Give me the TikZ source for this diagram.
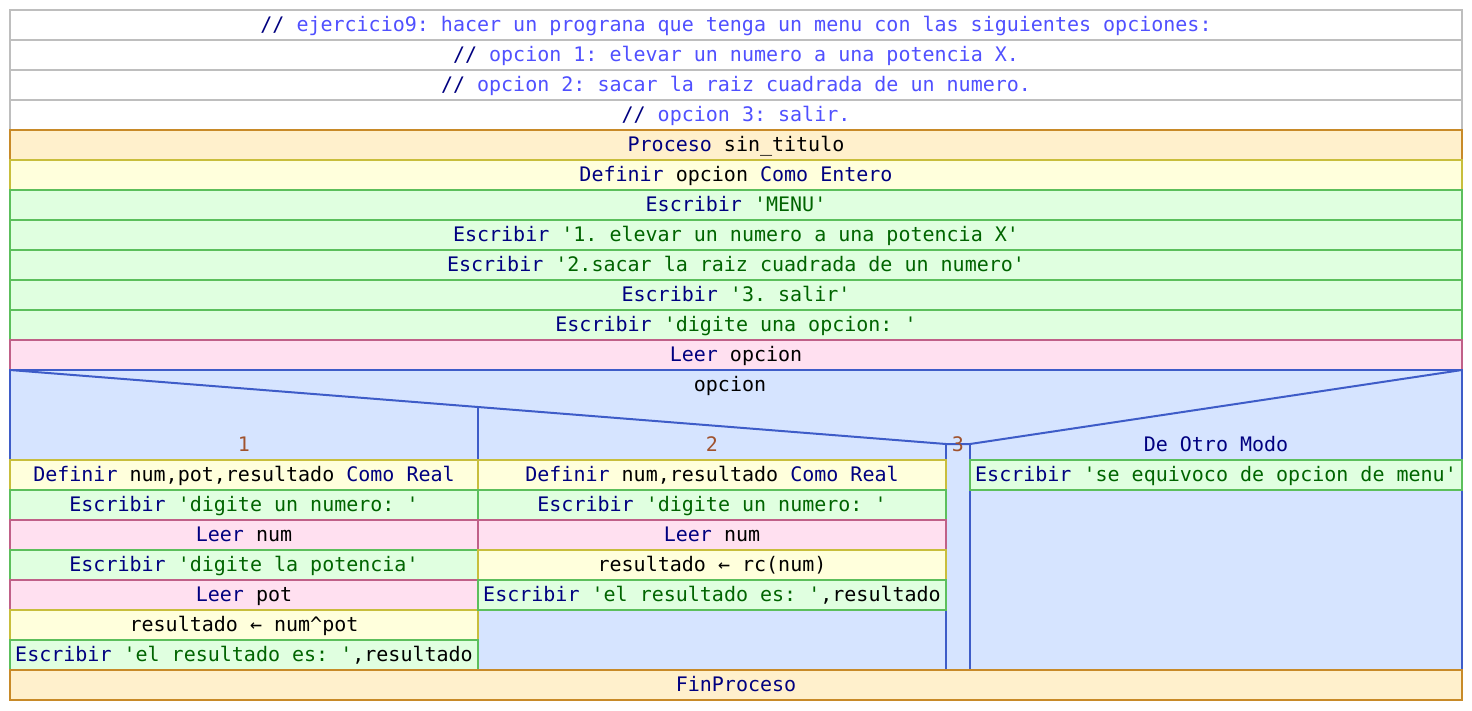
\documentclass[tikz,border=0pt]{standalone}
\usepackage{fontspec}
\setmonofont{DejaVu Sans Mono}
\usepackage{tikz}
\usepackage{xcolor}
\definecolor{cmtline}{HTML}{BEBEBE}
\definecolor{cmttext}{HTML}{5050FF}
\definecolor{kwcol}{HTML}{000080}
\definecolor{strcol}{HTML}{006400}
\definecolor{casecol}{HTML}{A0522D}
\definecolor{procfill}{HTML}{FFF0CC}
\definecolor{procline}{HTML}{C88A28}
\definecolor{deffill}{HTML}{FFFFDC}
\definecolor{defline}{HTML}{C8BE3C}
\definecolor{escfill}{HTML}{E0FFE0}
\definecolor{escline}{HTML}{5CBF5C}
\definecolor{leerfill}{HTML}{FFE0F0}
\definecolor{leerline}{HTML}{C06088}
\definecolor{swfill}{HTML}{D6E4FF}
\definecolor{swline}{HTML}{3E5CC8}
\newcommand{\kw}[1]{\textcolor{kwcol}{#1}}
\newcommand{\cad}[1]{\textcolor{strcol}{#1}}

\begin{document}
\begin{tikzpicture}[x=1pt, y=-1pt,
                    line join=miter,
                    blk/.style={rectangle, line width=2pt, inner sep=0pt, outer sep=0pt,
                                anchor=north west, minimum height=30pt, minimum width=#1,
                                text height=15pt, text depth=3pt,
                                font=\ttfamily\fontsize{20}{24}\selectfont},
                    blk/.default=1452pt,
                    cmt/.style={blk, draw=cmtline, fill=white},
                    proc/.style={blk=#1, draw=procline, fill=procfill},
                    proc/.default=1452pt,
                    defi/.style={blk=#1, draw=defline, fill=deffill},
                    defi/.default=1452pt,
                    esc/.style={blk=#1, draw=escline, fill=escfill},
                    esc/.default=1452pt,
                    leer/.style={blk=#1, draw=leerline, fill=leerfill},
                    leer/.default=1452pt,
                    lbl/.style={inner sep=0pt, text height=15pt, text depth=3pt,
                                font=\ttfamily\fontsize{20}{24}\selectfont},
                    swpath/.style={swline, line width=2pt}]
  \useasboundingbox (0,0) rectangle (1472,710);
  \def\colw{468pt}  % width of cases 1 and 2
  \def\otrow{492pt} % width of De Otro Modo

  % COMMENTS
  \foreach \txt [count=\i] in {{ejercicio9: hacer un prograna que tenga un menu con las siguientes opciones:},
                               {opcion 1: elevar un numero a una potencia X.},
                               {opcion 2: sacar la raiz cuadrada de un numero.},
                               {opcion 3: salir.}}{
    \node[cmt] (com\i) at (10,{10+30*(\i-1)}) {\kw{//} \textcolor{cmttext}{\txt}};
  }

  % MAIN SEQUENCE
  \node[proc] (proc) at (10,130) {\kw{Proceso} sin\_titulo};
  \node[defi] (defop) at (10,160) {\kw{Definir} opcion \kw{Como Entero}};
  \foreach \txt [count=\i] in {{'MENU'},
                               {'1. elevar un numero a una potencia X'},
                               {'2.sacar la raiz cuadrada de un numero'},
                               {'3. salir'},
                               {'digite una opcion: '}}{
    \node[esc] (esc\i) at (10,{190+30*(\i-1)}) {\kw{Escribir} \cad{\txt}};
  }
  \node[leer] (leerop) at (10,340) {\kw{Leer} opcion};

  % SWITCH
  \coordinate (swtl) at (10,370);
  \coordinate (swtr) at (1462,370);
  \coordinate (swbl) at (10,670);
  \coordinate (swbr) at (1462,670);
  \coordinate (tipl) at (946,444);
  \coordinate (tipr) at (970,444);
  \coordinate (sepa) at (478,407);
  \draw[swpath, fill=swfill] (swtl) rectangle (swbr);
  \draw[swpath] (swtl) -- (tipl) -- (tipr) -- (swtr);
  \draw[swpath] (sepa) -- (478,670);
  \draw[swpath] (tipl) -- (946,670);
  \draw[swpath] (tipr) -- (970,670);

  \node[lbl] (selvar) at (730,385) {opcion};
  \node[lbl, text=casecol] (caso1) at (244,445) {1};
  \node[lbl, text=casecol] (caso2) at (712,445) {2};
  \node[lbl, text=casecol] (caso3) at (958,445) {3};
  \node[lbl, text=kwcol] (otro) at (1216,445) {De Otro Modo};

  % CASE 1
  \node[defi=\colw] (c1a) at (10,460) {\kw{Definir} num,pot,resultado \kw{Como Real}};
  \node[esc=\colw]  (c1b) at (10,490) {\kw{Escribir} \cad{'digite un numero: '}};
  \node[leer=\colw] (c1c) at (10,520) {\kw{Leer} num};
  \node[esc=\colw]  (c1d) at (10,550) {\kw{Escribir} \cad{'digite la potencia'}};
  \node[leer=\colw] (c1e) at (10,580) {\kw{Leer} pot};
  \node[defi=\colw] (c1f) at (10,610) {resultado ← num\textasciicircum pot};
  \node[esc=\colw]  (c1g) at (10,640) {\kw{Escribir} \cad{'el resultado es: '},resultado};

  % CASE 2
  \node[defi=\colw] (c2a) at (478,460) {\kw{Definir} num,resultado \kw{Como Real}};
  \node[esc=\colw]  (c2b) at (478,490) {\kw{Escribir} \cad{'digite un numero: '}};
  \node[leer=\colw] (c2c) at (478,520) {\kw{Leer} num};
  \node[defi=\colw] (c2d) at (478,550) {resultado ← rc(num)};
  \node[esc=\colw]  (c2e) at (478,580) {\kw{Escribir} \cad{'el resultado es: '},resultado};

  % DE OTRO MODO
  \node[esc=\otrow] (c4a) at (970,460) {\kw{Escribir} \cad{'se equivoco de opcion de menu'}};

  \node[proc] (finproc) at (10,670) {\kw{FinProceso}};
\end{tikzpicture}
\end{document}
